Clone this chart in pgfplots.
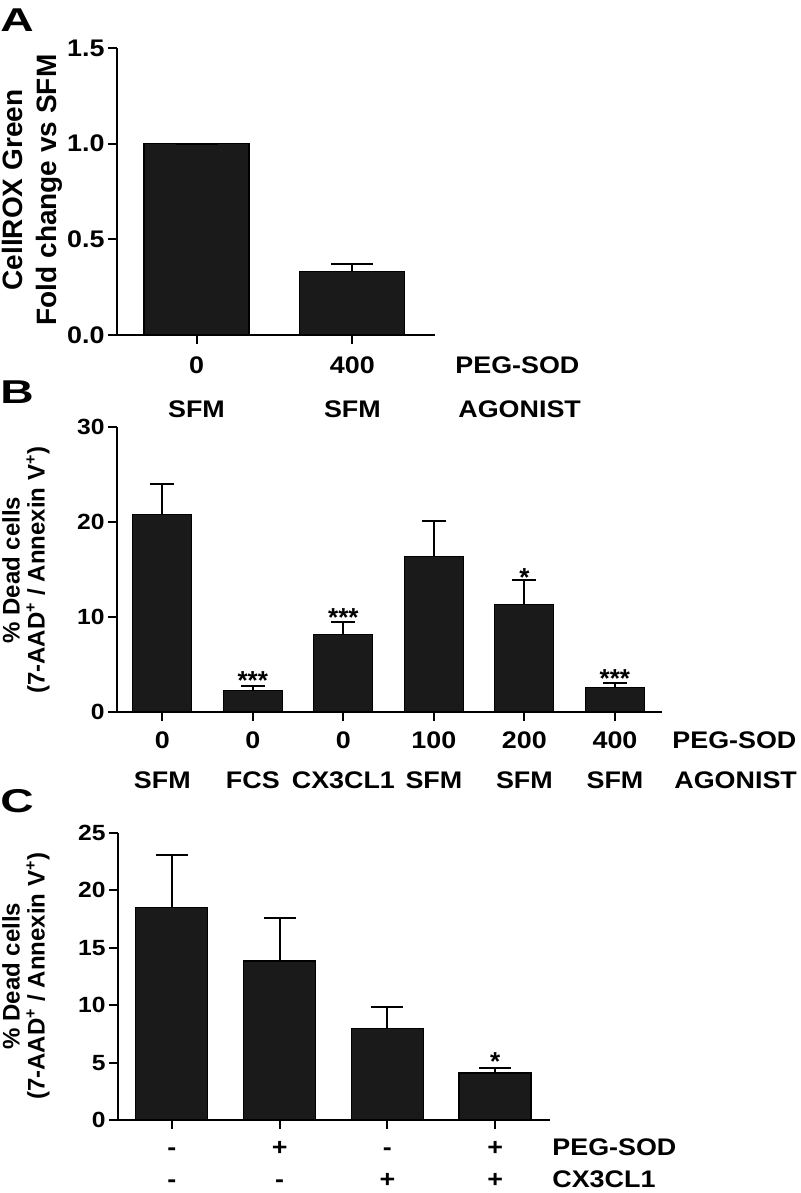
\documentclass[border=0pt]{standalone}
\usepackage{fontspec}
\setmainfont{Liberation Sans}
\newfontfamily\letterfont[FakeStretch=1.4]{Liberation Sans}
\newfontfamily\wfont[FakeStretch=1.12]{Liberation Sans}
\usepackage{pgfplots}
\pgfplotsset{compat=1.18}
\usepackage{pgfplotstable}
\definecolor{barc}{RGB}{26,26,26}

\pgfplotstableread{
x y ey
0 1.00 0
1 0.33 0.04
}\dataA
\pgfplotstableread{
x y ey
0 20.8 3.2
1 2.3 0.4
2 8.2 1.3
3 16.4 3.7
4 11.3 2.6
5 2.6 0.5
}\dataB
\pgfplotstableread{
x y ey
0 18.5 4.6
1 13.85 3.75
2 8.0 1.85
3 4.1 0.4
}\dataC

\begin{document}
\begin{tikzpicture}
\useasboundingbox (0,0) rectangle (400pt,-596.5pt);
\pgfplotsset{
  panel/.style={
    scale only axis, anchor=south west,
    axis x line*=bottom, axis y line*=left,
    axis line style={line width=1pt, -},
    tick align=outside, major tick length=4.5pt,
    every tick/.style={line width=1pt, black},
    xtick=data, xticklabels={},
    ymin=0, clip=false,
    yticklabel style={font=\wfont\bfseries\fontsize{11}{13}\selectfont, inner sep=1.5pt},
  },
  bars/.style={ybar, bar shift=0pt, bar width=#1, fill=barc, draw=black, line width=0.6pt},
  eb/.style={error bars/.cd, y dir=plus, y explicit, error mark=|,
    error bar style={line width=1pt, black},
    error mark options={line width=1pt, black, mark size=#1}},
}
\tikzset{cat/.style={font=\wfont\bfseries\fontsize{12}{14}\selectfont, anchor=base, inner sep=0pt},
         catl/.style={font=\wfont\bfseries\fontsize{12}{14}\selectfont, anchor=base west, inner sep=0pt},
         star/.style={font=\bfseries\fontsize{13}{15}\selectfont, anchor=base, inner sep=0pt},
         ylab/.style={rotate=90, align=center, inner sep=0pt},
         plab/.style={font=\letterfont\bfseries\fontsize{16.5}{17}\selectfont, anchor=base west, inner sep=0pt}}

% ---------- Panel A ----------
\begin{axis}[panel, at={(58.5pt,-167.5pt)}, width=159pt, height=143.5pt,
  xmin=-0.51, xmax=1.53, ymax=1.5,
  ytick={0,0.5,1,1.5}, yticklabels={0.0,0.5,1.0,1.5},
  yticklabel style={font=\wfont\bfseries\fontsize{12}{14}\selectfont}]
\addplot[bars=52.5pt, eb=10.5pt] table[x=x, y=y, y error=ey] {\dataA};
\end{axis}
\node[plab] at (0pt,-16pt) {A};
\node[ylab, font=\bfseries\fontsize{14}{17}\selectfont] at (16pt,-95pt) {CellROX Green\\Fold change vs SFM};
\node[cat] at (98.25pt,-186.5pt) {0};
\node[cat] at (176.2pt,-186.5pt) {400};
\node[catl] at (227.5pt,-186.5pt) {PEG-SOD};
\node[cat] at (98.25pt,-208.5pt) {SFM};
\node[cat] at (176.2pt,-208.5pt) {SFM};
\node[catl] at (229pt,-208.5pt) {AGONIST};

% ---------- Panel B ----------
\begin{axis}[panel, at={(58.5pt,-356pt)}, width=272.5pt, height=142.5pt,
  xmin=-0.5, xmax=5.52, ymax=30, ytick={0,10,20,30}, yticklabels={0,10,20,30}]
\addplot[bars=29.5pt, eb=6pt] table[x=x, y=y, y error=ey] {\dataB};
\node[star] at (axis cs:1,2.42) {***};
\node[star] at (axis cs:2,9.05) {***};
\node[star] at (axis cs:4,13.26) {*};
\node[star] at (axis cs:5,2.63) {***};
\end{axis}
\node[plab] at (0pt,-201.5pt) {B};
\node[ylab, font=\bfseries\fontsize{12}{12.5}\selectfont] at (13pt,-285pt) {\% Dead cells\\(7-AAD\textsuperscript{+} / Annexin V\textsuperscript{+})};
\foreach \x/\a/\b in {81.15/0/SFM, 126.4/0/FCS, 171.7/0/CX3CL1, 216.95/100/SFM, 262.2/200/SFM, 307.5/400/SFM}{
  \node[cat] at (\x pt,-374pt) {\a};
  \node[cat] at (\x pt,-394pt) {\b};
}
\node[catl] at (336pt,-374pt) {PEG-SOD};
\node[catl] at (337pt,-394pt) {AGONIST};

% ---------- Panel C ----------
\begin{axis}[panel, at={(59pt,-560pt)}, width=216pt, height=143.5pt,
  xmin=-0.5, xmax=3.51, ymax=25, ytick={0,5,10,15,20,25}, yticklabels={0,5,10,15,20,25}]
\addplot[bars=36pt, eb=8pt] table[x=x, y=y, y error=ey] {\dataC};
\node[star] at (axis cs:3,4.27) {*};
\end{axis}
\node[plab] at (0pt,-406pt) {C};
\node[ylab, font=\bfseries\fontsize{12}{12.5}\selectfont] at (13pt,-488pt) {\% Dead cells\\(7-AAD\textsuperscript{+} / Annexin V\textsuperscript{+})};
\foreach \x/\a/\b in {85.95/-/-, 139.8/+/-, 193.7/-/+, 247.55/+/+}{
  \node[cat] at (\x pt,-577.5pt) {\a};
  \node[cat] at (\x pt,-593.5pt) {\b};
}
\node[catl] at (276pt,-577.5pt) {PEG-SOD};
\node[catl] at (276pt,-593.5pt) {CX3CL1};
\end{tikzpicture}
\end{document}
